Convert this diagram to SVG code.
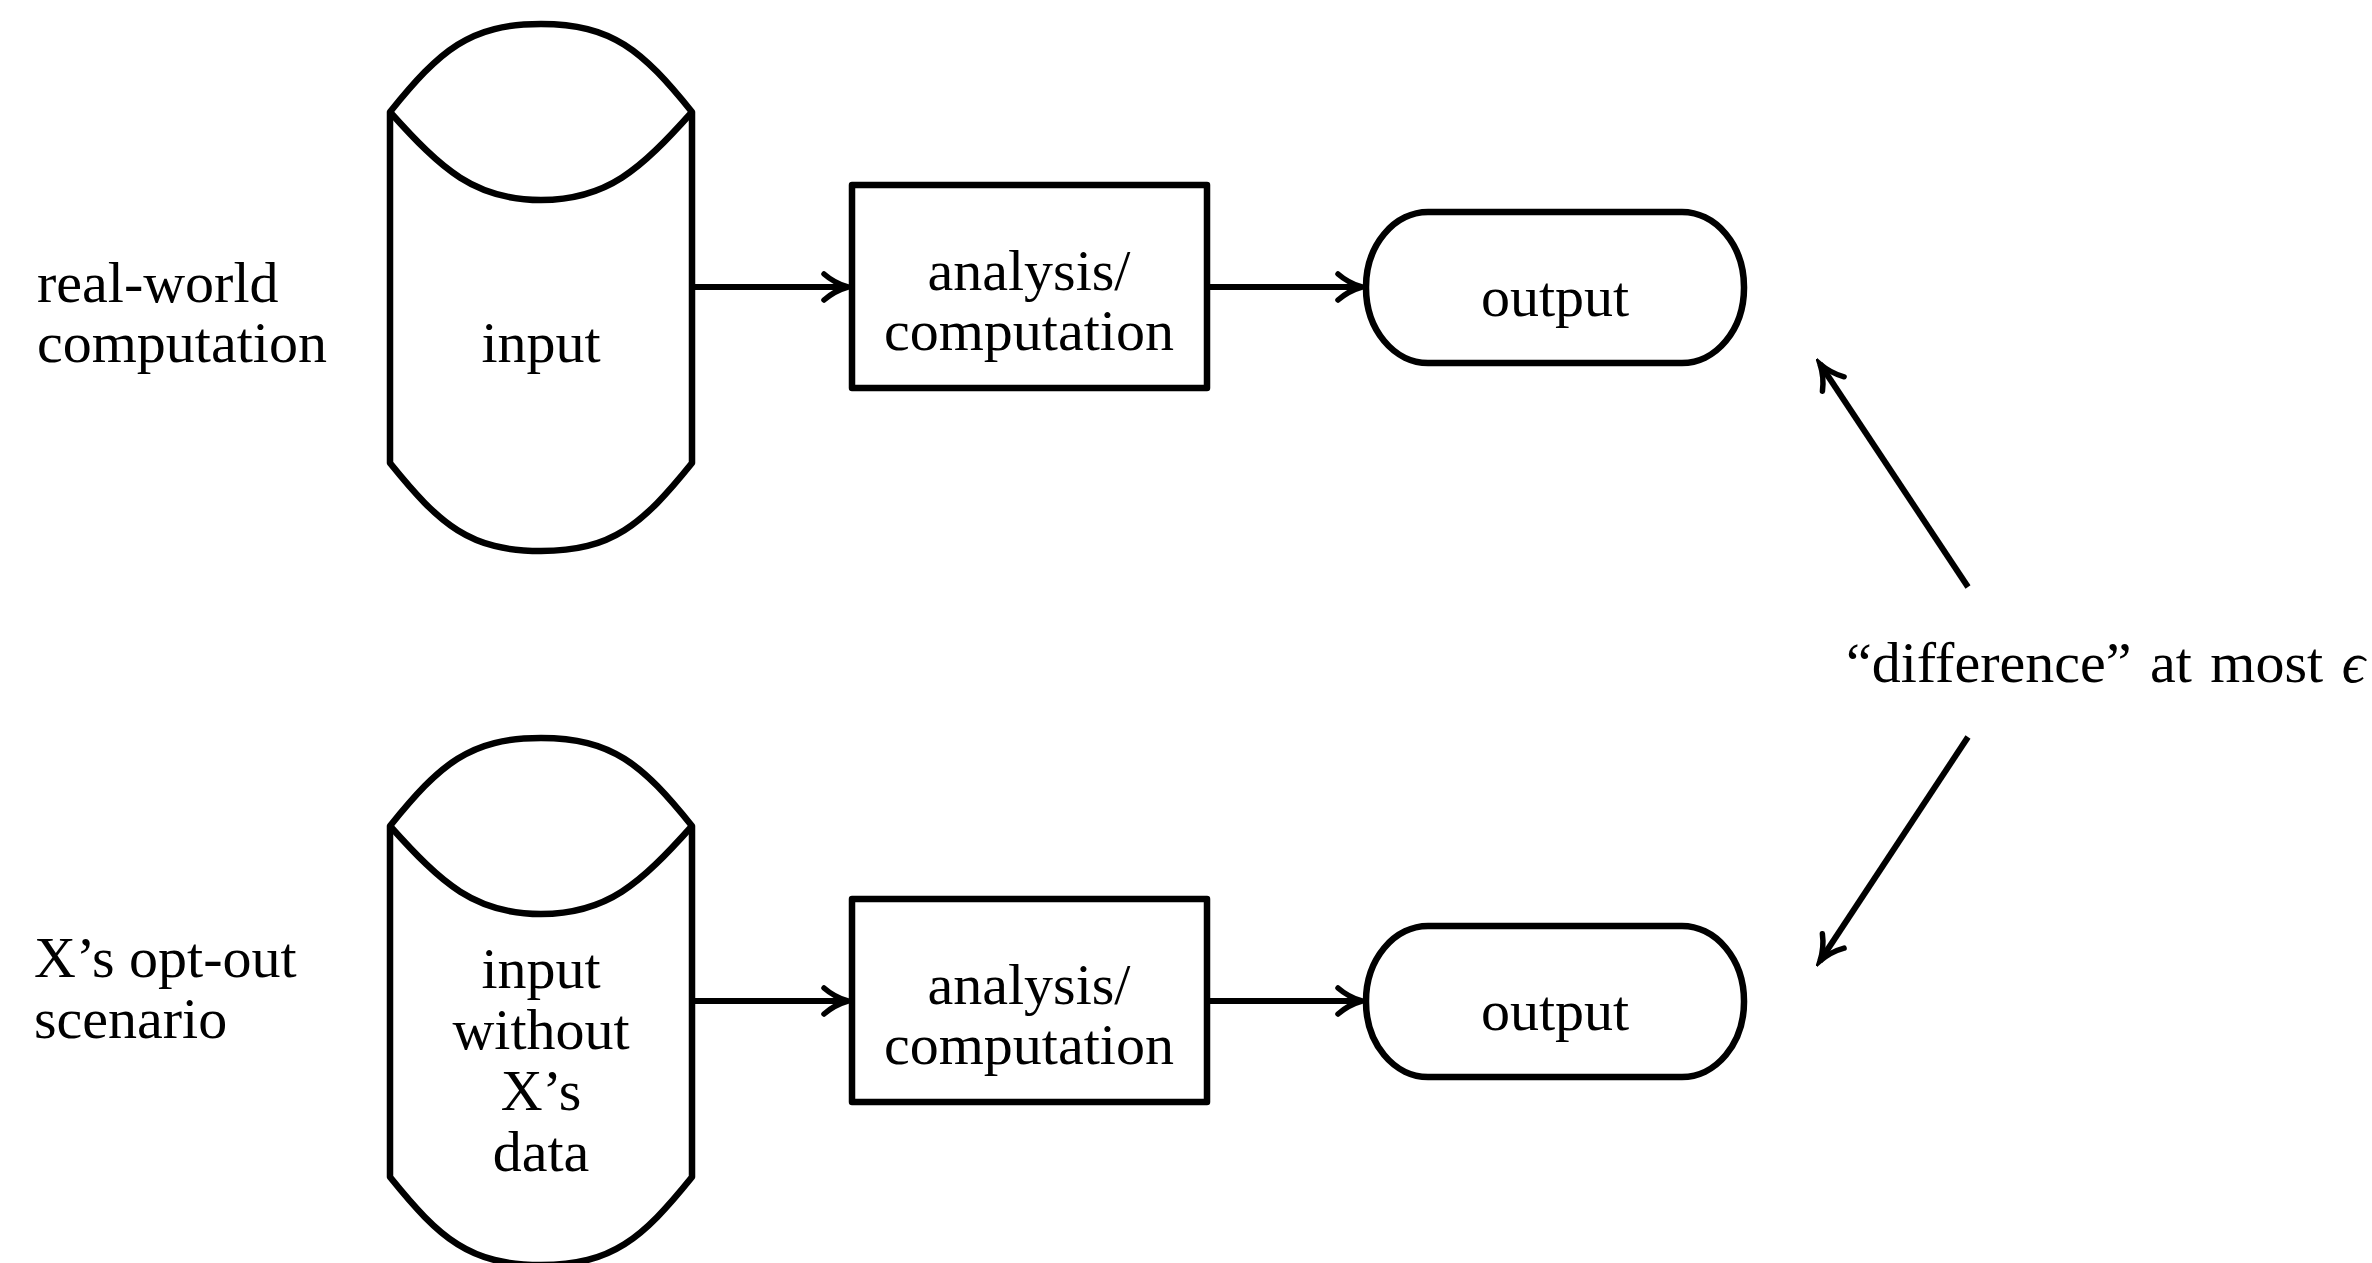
<svg xmlns="http://www.w3.org/2000/svg" width="2372" height="1263" viewBox="0 0 2372 1263">
<style>
.shape{fill:#fff;stroke:#000;stroke-width:6.5;stroke-linejoin:round}
.arc{fill:none;stroke:#000;stroke-width:6.5}
.edge{fill:none;stroke:#000;stroke-width:6}
text{font-family:"Liberation Serif","DejaVu Serif",serif;font-size:58px;fill:#000}
.c{text-anchor:middle}
</style>
<defs>
<marker id="arr" markerUnits="userSpaceOnUse" viewBox="-30 -18 36 36" refX="0" refY="0" markerWidth="36" markerHeight="36" orient="auto">
<path d="M-24,-13 C-16,-6 -7,-2 0,0 C-7,2 -16,6 -24,13" fill="none" stroke="#000" stroke-width="5.5" stroke-linecap="round"/>
</marker>
</defs>
<rect width="2372" height="1263" fill="#fff"/>

<g id="label-real">
<text x="37" y="302">real-world</text>
<text x="37" y="362">computation</text>
</g>
<g id="label-optout">
<text x="34" y="977">X’s opt-out</text>
<text x="34" y="1038">scenario</text>
</g>

<g id="input1">
<path class="shape" d="M390,112 C440,50 470,24 541,24 C612,24 642,50 692,112 L692,463 C642,525 612,551 541,551 C470,551 440,525 390,463 Z"/>
<path class="arc" d="M390,112 C442,170 475,200 541,200 C607,200 640,170 692,112"/>
<text class="c" x="541" y="362">input</text>
</g>
<g id="analysis1">
<rect class="shape" x="852" y="185" width="355" height="203"/>
<text class="c" x="1029" y="290">analysis/</text>
<text class="c" x="1029" y="350">computation</text>
</g>
<g id="output1">
<rect class="shape" x="1366" y="212" width="378" height="151" rx="62" ry="75"/>
<text class="c" x="1555" y="316">output</text>
</g>

<g id="input2">
<path class="shape" d="M390,826 C440,764 470,738 541,738 C612,738 642,764 692,826 L692,1177 C642,1239 612,1265 541,1265 C470,1265 440,1239 390,1177 Z"/>
<path class="arc" d="M390,826 C442,884 475,914 541,914 C607,914 640,884 692,826"/>
<text class="c" x="541" y="988">input</text>
<text class="c" x="541" y="1049">without</text>
<text class="c" x="541" y="1110">X’s</text>
<text class="c" x="541" y="1171">data</text>
</g>
<g id="analysis2">
<rect class="shape" x="852" y="899" width="355" height="203"/>
<text class="c" x="1029" y="1004">analysis/</text>
<text class="c" x="1029" y="1064">computation</text>
</g>
<g id="output2">
<rect class="shape" x="1366" y="926" width="378" height="151" rx="62" ry="75"/>
<text class="c" x="1555" y="1030">output</text>
</g>

<g id="label-diff">
<text x="1846" y="682" word-spacing="4">“difference” at most <tspan font-style="italic">ϵ</tspan></text>
</g>

<g id="connectors">
<line class="edge" x1="695" y1="287" x2="848" y2="287" marker-end="url(#arr)"/>
<line class="edge" x1="1210" y1="287" x2="1362" y2="287" marker-end="url(#arr)"/>
<line class="edge" x1="695" y1="1001" x2="848" y2="1001" marker-end="url(#arr)"/>
<line class="edge" x1="1210" y1="1001" x2="1362" y2="1001" marker-end="url(#arr)"/>
<line class="edge" x1="1968" y1="587" x2="1820" y2="364" marker-end="url(#arr)"/>
<line class="edge" x1="1968" y1="737" x2="1820" y2="961" marker-end="url(#arr)"/>
</g>
</svg>
